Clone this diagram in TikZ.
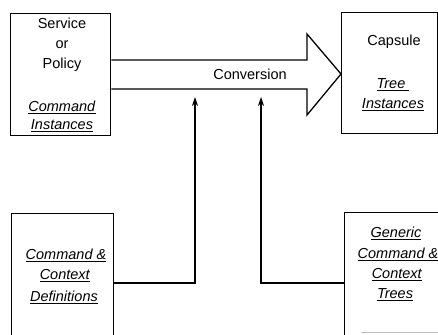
\documentclass[tikz,border=0pt]{standalone}
\usepackage{fontspec}
\setmainfont{Liberation Sans}
\usetikzlibrary{arrows.meta,calc}
\tikzset{
  box/.style={draw, line width=1.3pt, inner sep=0pt, anchor=north west},
  lbl/.style={font=\fontsize{14.5}{17}\selectfont, inner sep=0pt},
  link/.style={line width=1.3pt, -{Stealth[length=9pt,width=6pt]}},
}
\newcommand{\ul}[1]{\underline{\textit{#1}}}
\begin{document}
\begin{tikzpicture}[x=1pt,y=-1pt]
\useasboundingbox (0,0) rectangle (438,334);
\clip (0,0) rectangle (438,334);

% boxes
\node[box, minimum width=100pt, minimum height=122pt] (svc) at (10,13) {};
\node[box, minimum width=96pt, minimum height=121pt] (cap) at (341,12) {};
\node[box, minimum width=102pt, minimum height=140pt] (def) at (11,213) {};
\node[box, minimum width=110pt, minimum height=140pt] (gen) at (344,212) {};

% conversion arrow
\coordinate (shT) at (307,60);
\coordinate (shB) at (307,89);
\draw[line width=1.3pt, line join=miter]
  (svc.east |- shT) -- (shT) -- (307,34) -- (cap.west |- 0,74) -- (307,115) -- (shB) -- (svc.east |- shB);
\node[lbl] (conv) at (250,74) {Conversion};

% texts
\node[lbl] (t1) at (62,23) {Service};
\node[lbl] (t2) at (62,45) {or};
\node[lbl] (t3) at (62,65) {Policy};
\node[lbl] (t4) at (62,107) {\ul{Command}};
\node[lbl] (t5) at (62,126) {\ul{Instances}};

\node[lbl] (c1) at (394,42) {Capsule};
\node[lbl] (c2) at (393,85) {\ul{Tree\ }};
\node[lbl] (c3) at (393,105) {\ul{Instances}};

\node[lbl] (d1) at (66,255) {\ul{Command \&}};
\node[lbl] (d2) at (65,276) {\ul{Context}};
\node[lbl] (d3) at (64,297) {\ul{Definitions}};

\node[lbl] (g1) at (396,233) {\ul{Generic}};
\node[lbl] (g2) at (398,254) {\ul{Command \&}};
\node[lbl] (g3) at (397,275) {\ul{Context}};
\node[lbl] (g4) at (395,295) {\ul{Trees}};

\draw[gray!50, line width=0.6pt] (361,332) -- (438,332);

% feed connectors
\coordinate (j1) at (195,283);
\coordinate (j2) at (261,283);
\draw[link] (def.east |- j1) -- (j1) -- ($(j1 |- shB)+(0,8)$);
\draw[link] (gen.west |- j2) -- (j2) -- ($(j2 |- shB)+(0,8)$);
\end{tikzpicture}
\end{document}
